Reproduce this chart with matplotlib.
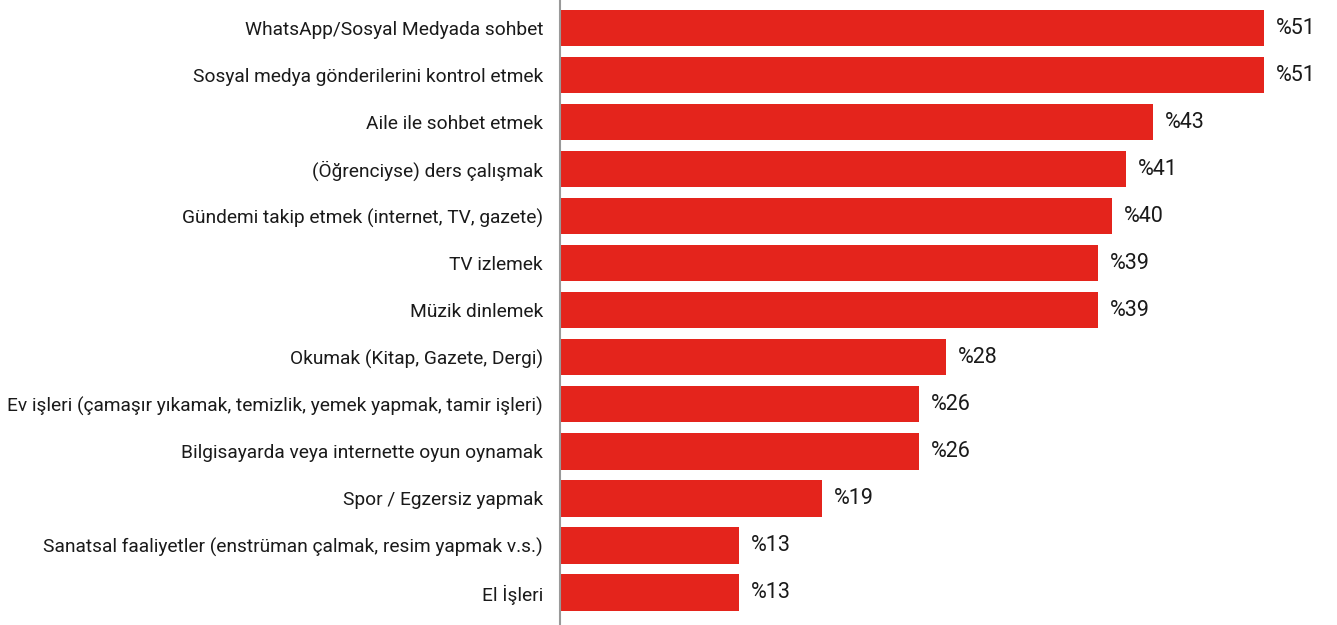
import matplotlib
matplotlib.use("Agg")
import matplotlib.pyplot as plt

categories = [
    "WhatsApp/Sosyal Medyada sohbet",
    "Sosyal medya gönderilerini kontrol etmek",
    "Aile ile sohbet etmek",
    "(Öğrenciyse) ders çalışmak",
    "Gündemi takip etmek (internet, TV, gazete)",
    "TV izlemek",
    "Müzik dinlemek",
    "Okumak (Kitap, Gazete, Dergi)",
    "Ev işleri (çamaşır yıkamak, temizlik, yemek yapmak, tamir işleri)",
    "Bilgisayarda veya internette oyun oynamak",
    "Spor / Egzersiz yapmak",
    "Sanatsal faaliyetler (enstrüman çalmak, resim yapmak v.s.)",
    "El İşleri",
]
values = [51, 51, 43, 41, 40, 39, 39, 28, 26, 26, 19, 13, 13]
value_labels = ["%51", "%51", "%43", "%41", "%40", "%39", "%39", "%28", "%26", "%26", "%19", "%13", "%13"]

plt.rcParams['font.family'] = ['Roboto', 'DejaVu Sans']

fig = plt.figure(figsize=(13.37, 6.25), dpi=100)
ax = fig.add_axes([560 / 1337, 0, 1 - 560 / 1337, 1])

y = list(range(len(categories)))
ax.barh(y, values, height=0.77, color="#E4241C")
ax.set_ylim(12.69, -0.596)
ax.set_xlim(0, 777 / 13.8)

for yi, v, lab in zip(y, values, value_labels):
    ax.annotate(lab, (v, yi), xytext=(8.5, 0), textcoords="offset points",
                va="center", ha="left", fontsize=15.5, color="#1a1a1a")

ax.set_yticks(y)
ax.set_yticklabels(categories, fontsize=13.8, color="#1a1a1a")
ax.tick_params(axis="y", length=0, pad=12.2)
ax.set_xticks([])
for s in ["top", "right", "bottom"]:
    ax.spines[s].set_visible(False)
ax.spines["left"].set_color("#999999")
ax.spines["left"].set_linewidth(1.5)

fig.savefig("out.png", dpi=100)
